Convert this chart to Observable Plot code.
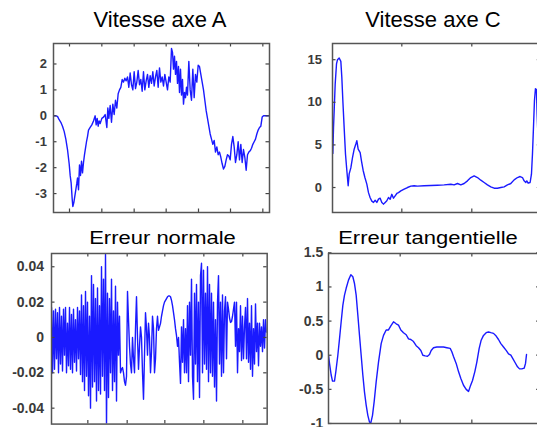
<!DOCTYPE html>
<html><head><meta charset="utf-8">
<script src="https://cdn.jsdelivr.net/npm/d3@7"></script>
<script src="https://cdn.jsdelivr.net/npm/@observablehq/plot@0.6"></script>
<style>
html,body{margin:0;padding:0;background:#fff;}
#root{position:relative;width:537px;height:427px;overflow:hidden;background:#fff;}
#root svg.panel{position:absolute;}
#titles{position:absolute;left:0;top:0;}
</style></head><body><div id="root"></div>
<script>
const titles = ["Vitesse axe A", "Vitesse axe C", "Erreur normale", "Erreur tangentielle"];

// [sample, value]
const speedA = [[2,0],[7,0],[12,-0.02],[17,-0.15],[22,-0.25],[27,-0.4],[32,-0.6],[37,-0.9],[42,-1.3],[47,-1.85],[50,-2.3],[53,-2.6],[56,-3.2],[58,-3.5],[61,-3.35],[64,-3.1],[67,-2.85],[70,-2.6],[72,-2.4],[75,-2.85],[78,-1.9],[81,-2.3],[84,-1.75],[87,-2.2],[90,-1.8],[93,-1.5],[96,-1.25],[99,-1.0],[102,-0.8],[105,-0.55],[110,-0.45],[115,-0.35],[120,-0.2],[125,0],[128,-0.35],[131,-0.1],[134,-0.4],[137,-0.2],[140,-0.3],[145,-0.1],[150,-0.05],[155,0.05],[160,-0.45],[163,0.3],[166,-0.1],[170,0.4],[174,-0.25],[178,0.45],[182,0.05],[186,0.6],[190,0.3],[194,0.85],[198,1.0],[202,1.1],[206,1.4],[210,1.3],[214,1.45],[218,1.35],[222,1.5],[226,1.1],[230,1.65],[234,1.2],[238,1.0],[242,1.7],[246,1.05],[250,1.3],[254,1.75],[258,1.2],[262,1.4],[266,0.95],[270,1.7],[274,1.0],[278,1.35],[282,1.6],[286,1.1],[290,1.55],[294,1.25],[298,1.7],[302,1.15],[306,1.5],[310,1.75],[314,1.1],[318,1.85],[322,1.3],[326,1.5],[330,1.15],[334,1.6],[338,1.3],[342,1.0],[346,1.5],[350,1.3],[354,2.6],[357,2.45],[360,1.8],[363,2.3],[366,1.6],[369,2.1],[372,1.25],[375,1.9],[378,0.9],[381,1.8],[384,0.8],[387,1.4],[390,0.45],[393,0.9],[396,0.7],[399,1.1],[402,0.8],[406,2.1],[410,1.0],[414,0.6],[418,1.8],[422,0.7],[426,1.6],[430,1.3],[434,1.95],[438,1.9],[442,1.6],[446,1.3],[450,1.0],[454,0.6],[458,0.2],[462,-0.1],[466,-0.4],[470,-0.7],[474,-0.9],[478,-1.1],[482,-0.95],[486,-1.4],[490,-1.2],[494,-1.5],[498,-1.4],[502,-1.6],[506,-1.85],[510,-2.05],[514,-1.95],[518,-1.7],[522,-1.5],[526,-1.55],[530,-1.7],[534,-1.1],[538,-0.8],[542,-1.2],[546,-1.8],[550,-1.5],[554,-1.0],[558,-1.7],[562,-1.1],[566,-1.8],[570,-1.3],[574,-1.6],[578,-2.1],[582,-1.5],[586,-1.4],[590,-1.35],[594,-1.25],[598,-1.1],[602,-1.0],[606,-0.9],[610,-0.7],[614,-0.55],[618,-0.45],[622,-0.4],[626,-0.05],[630,0],[635,0],[645,0]];

const speedC = [[1,4.0],[3,7.0],[5,9.0],[8,12.1],[12,14.5],[15,15.0],[20,15.2],[25,14.8],[28,12.9],[31,10.2],[35,7.0],[39,3.9],[43,2.0],[47,0.2],[50,1.6],[55,2.3],[60,3.5],[65,4.5],[70,5.1],[73,5.5],[77,4.5],[83,4.1],[87,3.1],[92,2.0],[97,1.2],[103,0.4],[108,-0.6],[113,-1.2],[118,-1.6],[123,-1.75],[128,-1.5],[133,-1.75],[138,-1.37],[143,-1.25],[148,-1.75],[153,-1.95],[158,-1.75],[163,-1.56],[168,-1.17],[173,-1.37],[178,-0.8],[183,-1.25],[188,-0.98],[193,-0.7],[198,-0.6],[205,-0.4],[215,-0.2],[225,0.0],[235,0.16],[245,0.2],[255,0.16],[275,0.2],[295,0.23],[315,0.27],[335,0.31],[355,0.39],[365,0.31],[375,0.47],[385,0.31],[395,0.47],[405,0.78],[415,1.17],[425,1.37],[435,1.17],[445,0.86],[455,0.59],[465,0.31],[475,0.08],[485,-0.08],[495,-0.08],[505,0.0],[515,0.08],[525,0.31],[535,0.47],[545,0.9],[555,1.17],[563,1.29],[570,1.17],[575,0.78],[580,0.59],[583,0.78],[587,0.51],[593,0.59],[597,1.56],[600,3.9],[603,7.0],[606,10.2],[609,11.6],[612,11.5],[614,8.6],[616,6.6]];

// one value every 3 samples
const errNormStep = 3;
const errNorm = [0.017,-0.02,0.015,-0.018,0.016,-0.012,0.014,-0.02,0.017,-0.015,0.012,-0.019,0.016,-0.01,0.017,-0.02,0.008,-0.016,0.017,-0.018,0.013,-0.02,0.016,-0.014,0.01,-0.019,0.017,-0.012,0.015,-0.021,
0.024,-0.025,0.018,-0.03,0.026,-0.022,0.02,-0.033,0.012,-0.04,0.035,-0.028,0.03,-0.025,0.022,-0.036,0.028,-0.03,0.018,-0.032,0.04,-0.022,0.033,-0.03,0.047,-0.05,0.025,
-0.034,0.022,-0.02,0.033,-0.03,0.015,-0.025,0.029,-0.036,0.02,-0.01,0.012,-0.02,-0.018,-0.017,-0.02,-0.025,-0.027,-0.022,0.026,
0.01,-0.005,-0.015,-0.02,0,-0.012,-0.02,0.005,0.023,0,-0.018,-0.005,0.006,0,-0.02,-0.035,-0.01,0.014,0.005,-0.01,0.008,0,-0.02,-0.008,0.012,0.005,-0.02,-0.012,0.005,0.012,0.004,0.006,
0.008,0.012,0.015,0.018,0.02,0.021,0.022,0.023,0.0235,0.0235,0.023,0.021,0.018,0.014,0.01,0.005,0.001,-0.005,0,-0.014,-0.026,0.006,-0.014,0.01,-0.02,
0.005,-0.02,0.018,-0.025,0.02,-0.01,0.033,-0.022,-0.035,0.025,-0.015,0.03,-0.025,0.02,-0.034,0.035,0.042,-0.02,0.038,-0.015,0.025,-0.018,0.04,-0.025,0.03,-0.02,0.025,-0.022,0.02,-0.028,0.01,-0.036,0.02,0.035,-0.015,0.02,-0.022,0.024,
-0.02,0.015,0.023,-0.012,0.02,0.016,0.011,0.0085,0.009,0.012,0.016,0.02,-0.005,
0.02,-0.02,0.005,-0.008,0.018,-0.013,0.012,-0.012,0.006,0.017,-0.012,0.022,-0.014,0.008,-0.018,0.018,-0.022,0.005,-0.015,0.019,-0.008,0.008,-0.016,0.008,-0.005,0.006,-0.008,0.01,-0.006,0.01,0.003];

const errTang = [[0,0],[3,-0.12],[8,-0.29],[12,-0.38],[18,-0.38],[22,-0.24],[28,0],[33,0.24],[38,0.49],[43,0.73],[48,0.88],[53,0.98],[60,1.1],[67,1.18],[73,1.15],[78,1.05],[83,0.88],[88,0.59],[93,0.29],[98,0],[103,-0.29],[108,-0.54],[113,-0.73],[118,-0.88],[123,-0.98],[127,-0.99],[132,-0.88],[137,-0.68],[143,-0.39],[150,-0.1],[158,0.17],[165,0.29],[173,0.37],[180,0.37],[187,0.43],[195,0.49],[203,0.46],[210,0.44],[217,0.37],[225,0.33],[233,0.3],[240,0.24],[247,0.23],[255,0.2],[263,0.14],[270,0.11],[277,0.07],[283,0],[290,-0.01],[297,-0.015],[303,0.01],[308,0.07],[315,0.11],[325,0.12],[335,0.12],[345,0.12],[355,0.11],[365,0.1],[370,0.05],[375,-0.02],[383,-0.12],[390,-0.24],[397,-0.34],[405,-0.44],[413,-0.5],[420,-0.53],[425,-0.46],[432,-0.37],[439,-0.24],[445,-0.1],[452,0.1],[458,0.22],[465,0.29],[473,0.33],[480,0.34],[487,0.33],[495,0.32],[503,0.28],[510,0.23],[517,0.17],[525,0.12],[533,0.07],[540,0.02],[547,0],[553,-0.05],[560,-0.11],[567,-0.17],[573,-0.2],[580,-0.2],[587,-0.19],[591,-0.12],[594,0.01]];

const xTicksA = [48, 145, 242, 338, 435, 531, 628];
const xTicksC = [208, 418];
const xTicksN = [109, 227, 340, 457, 574];
const xTicksT = [215, 430];
const yTicksA = [-3, -2, -1, 0, 1, 2];
const yTicksC = [0, 5, 10, 15];
const yTicksN = [-0.04, -0.02, 0, 0.02, 0.04];
const yTicksT = [-1, -0.5, 0, 0.5, 1, 1.5];

const root = document.getElementById("root");
const FONT = "'Liberation Sans', Arial, Helvetica, sans-serif";

function panel(o) {
  const mL = 50, mR = 4, mT = 4, mB = 4;
  const rows = o.data.map(([x, y]) => ({x, y}));
  const svg = Plot.plot({
    width: o.fw + mL + mR, height: o.fh + mT + mB,
    marginLeft: mL, marginRight: mR, marginTop: mT, marginBottom: mB,
    x: {domain: o.xDomain, axis: null},
    y: {domain: o.yDomain, ticks: o.yTicks, tickFormat: o.fmt, tickSize: 0, tickPadding: o.pad, label: null},
    style: {background: "transparent", fontSize: o.fs + "px", fontWeight: "bold", fontFamily: FONT, color: "#3a3a3a", overflow: "visible"},
    marks: [
      Plot.line(rows, {x: "x", y: "y", stroke: "#1a1aff", strokeWidth: 1.4, clip: true}),
      Plot.tickX(o.xTicks, {x: d => d, stroke: "#444", strokeWidth: 1.2, insetTop: o.fh - 3.5}),
      Plot.tickX(o.xTicks, {x: d => d, stroke: "#444", strokeWidth: 1.2, insetBottom: o.fh - 3.5}),
      Plot.tickY(o.yTicks, {y: d => d, stroke: "#444", strokeWidth: 1.2, insetRight: o.fw - 3.5}),
      Plot.tickY(o.yTicks, {y: d => d, stroke: "#444", strokeWidth: 1.2, insetLeft: o.fw - 3.5}),
      Plot.frame({stroke: "#555", strokeWidth: 1.5})
    ]
  });
  svg.classList.add("panel");
  svg.style.left = (o.fx - mL) + "px";
  svg.style.top = (o.fy - mT) + "px";
  root.appendChild(svg);
}

panel({fx: 53.3, fy: 42.7, fw: 216, fh: 169, xDomain: [0, 648], yDomain: [-3.73, 2.79],
  xTicks: xTicksA, yTicks: yTicksA, fmt: d => String(d), pad: 6.6, fs: 13, data: speedA});
panel({fx: 331.7, fy: 42.7, fw: 208.3, fh: 169, xDomain: [0, 625], yDomain: [-2.93, 16.9],
  xTicks: xTicksC, yTicks: yTicksC, fmt: d => String(d), pad: 10.5, fs: 13, data: speedC});
panel({fx: 51, fy: 252.7, fw: 215.7, fh: 170.6, xDomain: [0, 647], yDomain: [-0.049, 0.0475],
  xTicks: xTicksN, yTicks: yTicksN, fmt: d => d === 0 ? "0" : d.toFixed(2), pad: 7.5, fs: 14,
  data: errNorm.map((v, i) => [i * errNormStep, v])});
panel({fx: 328.3, fy: 253.3, fw: 211.7, fh: 170, xDomain: [0, 635], yDomain: [-1.0, 1.49],
  xTicks: xTicksT, yTicks: yTicksT, fmt: d => String(d), pad: 5.3, fs: 14, data: errTang});

// titles
const ns = "http://www.w3.org/2000/svg";
const ts = document.createElementNS(ns, "svg");
ts.setAttribute("id", "titles");
ts.setAttribute("width", 537); ts.setAttribute("height", 427);
const tpos = [[160, 27, 1], [433, 26.5, 1], [162.5, 243.5, 0.85], [428, 243.5, 0.85]];
titles.forEach((t, i) => {
  const [cx, by, sy] = tpos[i];
  const el = document.createElementNS(ns, "text");
  el.setAttribute("transform", `translate(${cx},${by}) scale(1,${sy})`);
  el.setAttribute("text-anchor", "middle");
  el.setAttribute("font-family", FONT);
  el.setAttribute("font-size", "22");
  el.setAttribute("fill", "#000");
  el.textContent = t;
  ts.appendChild(el);
});
root.appendChild(ts);
</script></body></html>
